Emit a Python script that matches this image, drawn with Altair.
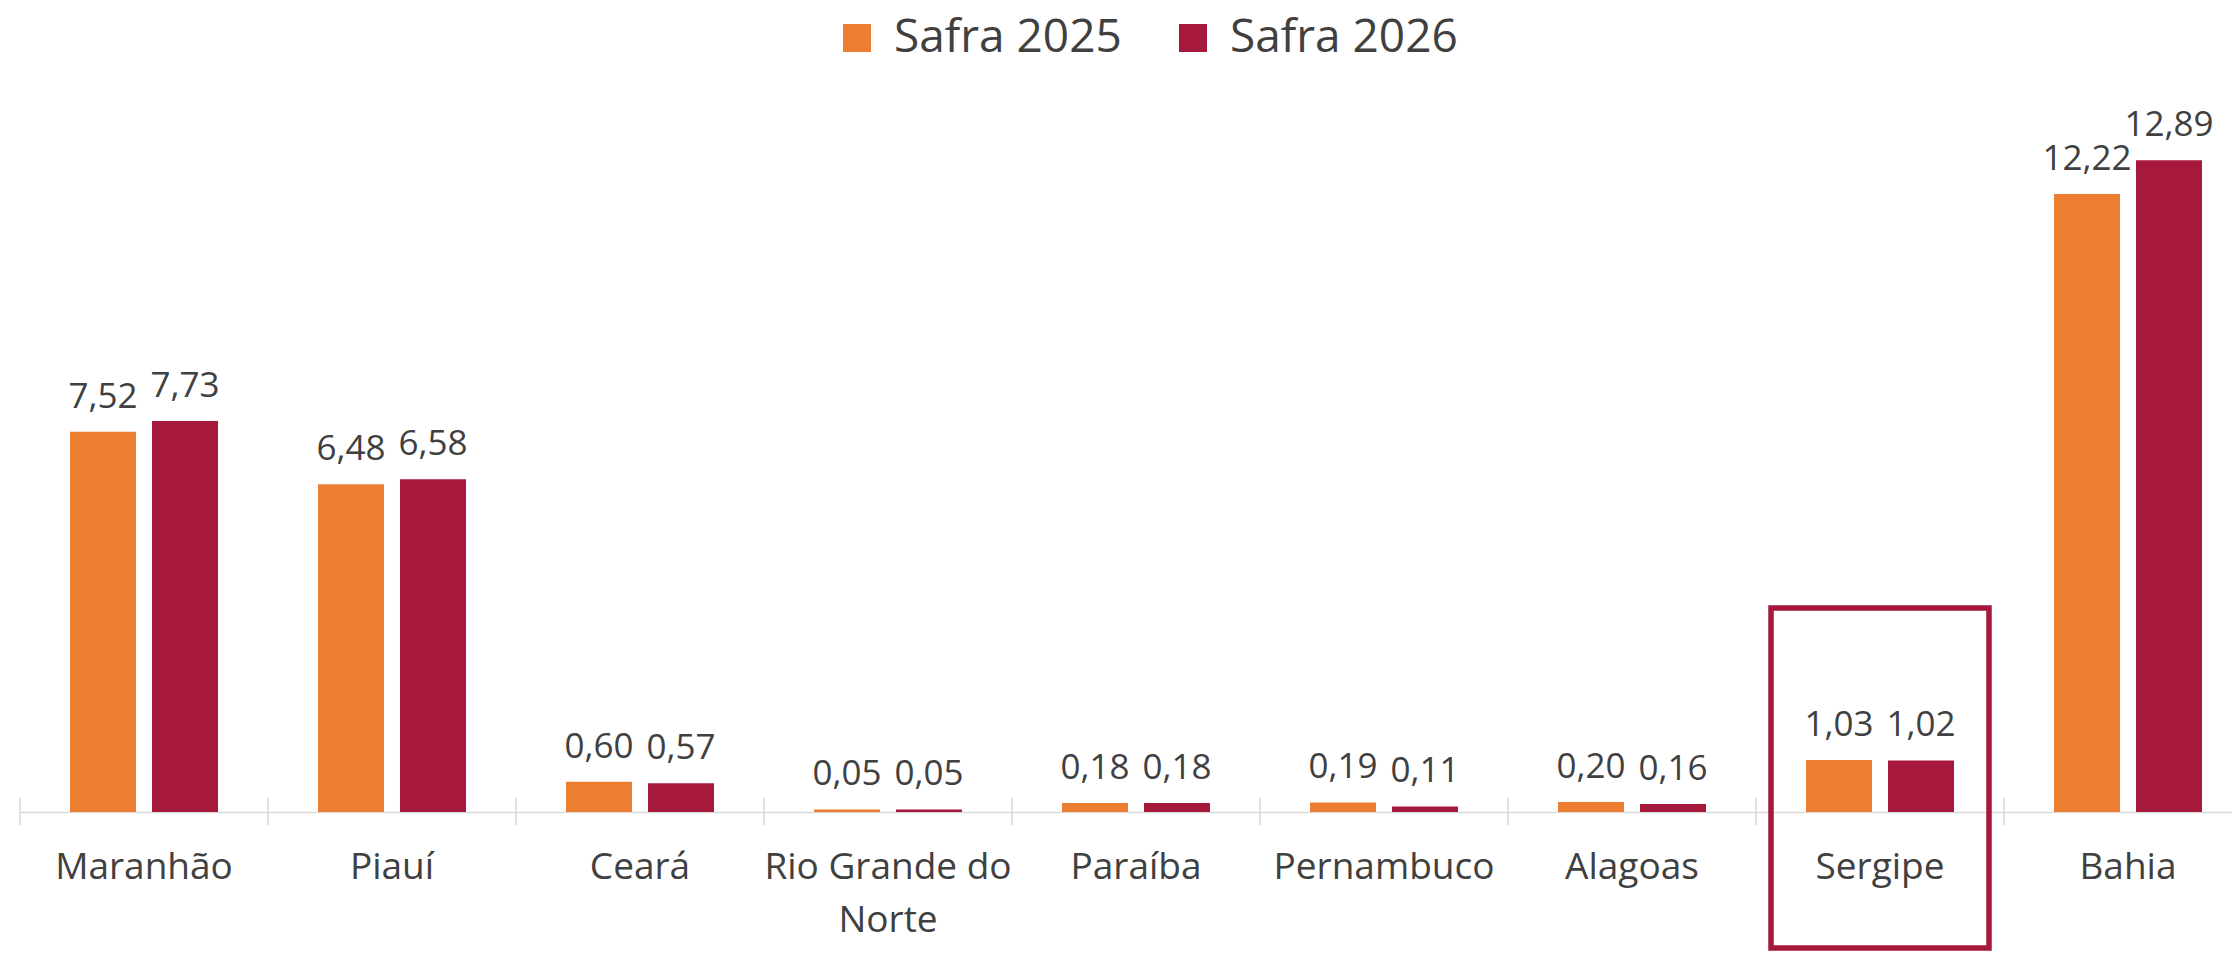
import altair as alt
import pandas as pd

states = ["Maranhão", "Piauí", "Ceará", "Rio Grande do Norte", "Paraíba",
          "Pernambuco", "Alagoas", "Sergipe", "Bahia"]
series = ["Safra 2025", "Safra 2026"]
safra_2025 = [7.52, 6.48, 0.60, 0.05, 0.18, 0.19, 0.20, 1.03, 12.22]
safra_2026 = [7.73, 6.58, 0.57, 0.05, 0.18, 0.11, 0.16, 1.02, 12.89]
colors = ["#ED7D31", "#A6193C"]
highlight = ["Sergipe"]

rows = []
for s, vals in zip(series, [safra_2025, safra_2026]):
    for st, v in zip(states, vals):
        rows.append({"state": st, "serie": s, "value": v,
                     "label": f"{v:.2f}".replace(".", ",")})
df = pd.DataFrame(rows)
states_df = pd.DataFrame({"state": states})
hl_df = pd.DataFrame({"state": highlight})

FONT = "Open Sans"
TXT = "#404040"

xscale = alt.Scale(range=[0, 2232], paddingInner=0, paddingOuter=0)
xaxis = alt.Axis(
    title=None, ticks=False, domainColor="#D9D9D9", domainWidth=1.5,
    labelFont=FONT, labelFontSize=37, labelColor=TXT, labelPadding=37,
    labelBaseline="top", labelLineHeight=53, labelAngle=0, labelLimit=600,
    labelOverlap=False,
    labelExpr="datum.value == 'Rio Grande do Norte' ? ['Rio Grande do', 'Norte'] : datum.value",
)

base = alt.Chart(df).encode(
    x=alt.X("state:N", sort=states, scale=xscale, axis=xaxis),
    xOffset=alt.XOffset("serie:N", sort=series,
                        scale=alt.Scale(paddingInner=0.195, paddingOuter=0.61)),
    y=alt.Y("value:Q", scale=alt.Scale(domain=[0, 14], nice=False), axis=None),
)

bars = base.mark_bar().encode(
    color=alt.Color("serie:N", sort=series,
                    scale=alt.Scale(domain=series, range=colors),
                    legend=alt.Legend(orient="none", legendX=814, legendY=-89,
                                      direction="horizontal", title=None,
                                      symbolType="square", symbolSize=784,
                                      symbolStrokeWidth=0,
                                      labelFontSize=46, labelFont=FONT,
                                      labelColor=TXT, labelOffset=14,
                                      columnPadding=48, labelLimit=600))
)

text = base.mark_text(dy=-24, baseline="alphabetic", fontSize=35,
                      font=FONT, color=TXT).encode(text="label:N")

ticks = alt.Chart(states_df).mark_rule(color="#D9D9D9", strokeWidth=1.5).encode(
    x=alt.X("state:N", sort=states, scale=xscale, axis=xaxis, bandPosition=0),
    y=alt.value(694), y2=alt.value(721),
)

box = alt.Chart(hl_df).mark_bar(filled=False, width=218, stroke="#A6193C",
                                strokeWidth=5.5).encode(
    x=alt.X("state:N", sort=states, scale=xscale, axis=xaxis),
    y=alt.value(504), y2=alt.value(844),
)

chart = alt.layer(ticks, bars, text, box).properties(
    width=2212, height=708,
    padding={"left": 12, "top": 96, "right": 0, "bottom": 140},
    autosize=alt.AutoSizeParams(type="none"),
).configure_view(stroke=None)

chart.save("out.html", embed_options={"renderer": "svg", "actions": False})
